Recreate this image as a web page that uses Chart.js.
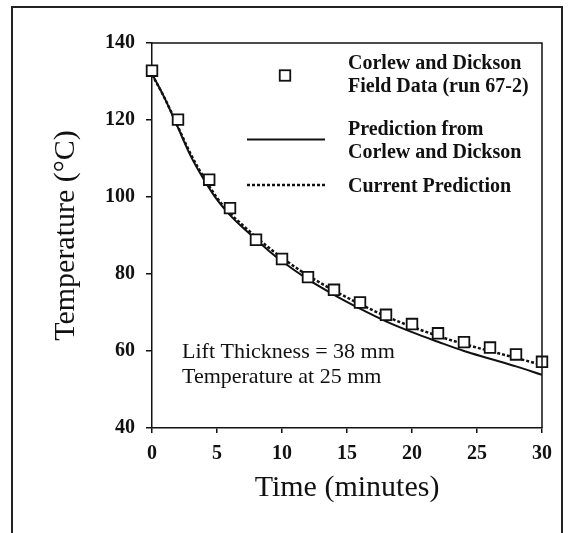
<!DOCTYPE html>
<html>
<head>
<meta charset="utf-8">
<script src="https://cdn.jsdelivr.net/npm/chart.js@4.4.1/dist/chart.umd.min.js"></script>
<style>
  html, body { margin: 0; padding: 0; background: #fff; overflow: hidden; }
  #wrap { position: relative; width: 574px; height: 533px; }
  #frame { position: absolute; left: 11px; top: 6px; width: 548px; height: 560px;
           border: 2px solid #222; border-bottom: none; pointer-events: none; }
  canvas { position: absolute; left: 0; top: 0; }
</style>
</head>
<body>
<div id="wrap">
  <canvas id="chart" width="574" height="533"></canvas>
  <div id="frame"></div>
</div>
<script>
  // field data (squares)
  const fieldTime = [0, 2, 4.4, 6, 8, 10, 12, 14, 16, 18, 20, 22, 24, 26, 28, 30];
  const fieldTemp = [132.8, 120.1, 104.5, 97.1, 88.9, 83.9, 79.2, 75.9, 72.6, 69.4, 67.0, 64.6, 62.3, 60.9, 59.1, 57.2];

  // model curves
  const predTime    = [0, 1, 2, 3, 4, 5, 6, 7, 8, 9, 10, 12, 14, 16, 18, 20, 22, 24, 26, 28, 30];
  const corlewTemp  = [132, 125.5, 118, 110.5, 104.5, 99.3, 95.3, 92.0, 89.0, 86.0, 83.3, 78.6, 74.6, 71.0, 67.7, 64.9, 62.4, 60.0, 58.0, 56.0, 53.8];
  const currentTemp = [131.8, 125.5, 118.2, 111, 105, 99.8, 95.8, 92.6, 89.6, 86.8, 84.2, 79.6, 75.7, 72.2, 69.0, 66.3, 63.9, 61.8, 60.0, 58.2, 56.4];

  const xTicks = [0, 5, 10, 15, 20, 25, 30];
  const yTicks = [40, 60, 80, 100, 120, 140];

  const legendLabels = [
    ['Corlew and Dickson', 'Field Data (run 67-2)'],
    ['Prediction from', 'Corlew and Dickson'],
    ['Current Prediction']
  ];
  const noteLines = ['Lift Thickness = 38 mm', 'Temperature at 25 mm'];

  const SERIF = '"Liberation Serif", "Times New Roman", serif';
  const INK = '#111';

  const zip = (xs, ys) => xs.map((x, i) => ({ x: x, y: ys[i] }));

  // legend + note, drawn inside the plot
  const overlay = {
    id: 'overlay',
    afterDraw(chart) {
      const { ctx, chartArea: a } = chart;
      const ds = chart.data.datasets;
      ctx.save();

      // top and right frame of plot
      ctx.strokeStyle = INK;
      ctx.lineWidth = 1.5;
      ctx.beginPath();
      ctx.moveTo(a.left, a.top);
      ctx.lineTo(a.right, a.top);
      ctx.lineTo(a.right, a.bottom);
      ctx.stroke();

      const sx0 = a.left + 95, sx1 = a.left + 173, tx = a.left + 196;
      const rows = [a.top + 21, a.top + 87, a.top + 144];
      const lh = 23;
      ctx.font = 'bold 20px ' + SERIF;
      ctx.fillStyle = INK;
      ctx.textAlign = 'left';
      ctx.textBaseline = 'middle';
      legendLabels.forEach((lines, i) => {
        const y0 = rows[i];
        lines.forEach((t, j) => ctx.fillText(t, tx, y0 + j * lh));
        const cy = y0 + (lines.length - 1) * lh / 2;
        const d = ds[i];
        if (i === 0) {
          const s = 10.5;
          ctx.fillStyle = '#fff';
          ctx.fillRect(a.left + 133 - s / 2, cy - s / 2, s, s);
          ctx.lineWidth = d.borderWidth;
          ctx.strokeStyle = d.borderColor;
          ctx.strokeRect(a.left + 133 - s / 2, cy - s / 2, s, s);
          ctx.fillStyle = INK;
        } else {
          ctx.beginPath();
          ctx.setLineDash(d.borderDash || []);
          ctx.lineWidth = d.borderWidth;
          ctx.strokeStyle = d.borderColor;
          ctx.moveTo(sx0, cy - 2);
          ctx.lineTo(sx1, cy - 2);
          ctx.stroke();
          ctx.setLineDash([]);
        }
      });

      ctx.font = '22px ' + SERIF;
      ctx.fillStyle = INK;
      noteLines.forEach((t, j) => ctx.fillText(t, a.left + 30, a.top + 309 + j * 25));
      ctx.restore();
    }
  };

  new Chart(document.getElementById('chart'), {
    type: 'scatter',
    data: {
      datasets: [
        {
          label: 'Corlew and Dickson Field Data (run 67-2)',
          data: zip(fieldTime, fieldTemp),
          pointStyle: 'rect',
          pointRadius: 7.5,
          borderWidth: 1.8,
          borderColor: INK,
          backgroundColor: '#fff',
          clip: false
        },
        {
          label: 'Prediction from Corlew and Dickson',
          data: zip(predTime, corlewTemp),
          showLine: true,
          pointRadius: 0,
          borderWidth: 2,
          borderColor: INK,
          cubicInterpolationMode: 'monotone'
        },
        {
          label: 'Current Prediction',
          data: zip(predTime, currentTemp),
          showLine: true,
          pointRadius: 0,
          borderWidth: 2.5,
          borderDash: [3, 2],
          borderColor: INK,
          cubicInterpolationMode: 'monotone'
        }
      ]
    },
    options: {
      responsive: false,
      animation: false,
      devicePixelRatio: 1,
      layout: { padding: { left: 0, top: 43, right: 32, bottom: 0 } },
      plugins: { legend: { display: false }, tooltip: { enabled: false } },
      scales: {
        x: {
          type: 'linear',
          min: xTicks[0],
          max: xTicks[xTicks.length - 1],
          afterBuildTicks: s => { s.ticks = xTicks.map(v => ({ value: v })); },
          afterFit: s => { s.height = 105; },
          grid: { drawOnChartArea: false, drawTicks: true, tickLength: 5, color: INK, lineWidth: 1.5 },
          border: { color: INK, width: 1.5 },
          ticks: { color: INK, padding: 9, maxRotation: 0, font: { family: SERIF, size: 20, weight: 'bold' } },
          title: {
            display: true, text: 'Time (minutes)', color: INK,
            font: { family: SERIF, size: 30, weight: 'normal' },
            padding: { top: 0, bottom: 27 }
          }
        },
        y: {
          type: 'linear',
          min: yTicks[0],
          max: yTicks[yTicks.length - 1],
          afterBuildTicks: s => { s.ticks = yTicks.map(v => ({ value: v })); },
          afterFit: s => { s.width = 152; },
          grid: { drawOnChartArea: false, drawTicks: true, tickLength: 6, color: INK, lineWidth: 1.5 },
          border: { color: INK, width: 1.5 },
          ticks: { color: INK, padding: 11, font: { family: SERIF, size: 20, weight: 'bold' } },
          title: {
            display: true, text: 'Temperature (°C)', color: INK,
            font: { family: SERIF, size: 30, weight: 'normal' },
            padding: { top: 48, bottom: 0 }
          }
        }
      }
    },
    plugins: [overlay]
  });
</script>
</body>
</html>
